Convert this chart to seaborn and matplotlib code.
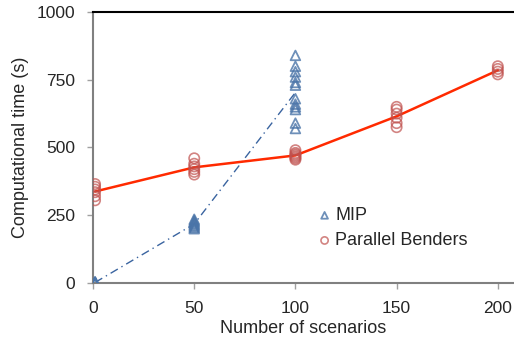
import matplotlib
matplotlib.use("Agg")
import matplotlib.pyplot as plt
import seaborn as sns
import pandas as pd

mip_x = [1]*6 + [50]*8 + [100]*12
mip_y = [0, 0, 1, 2, 3, 4,
         200, 205, 210, 215, 220, 225, 230, 235,
         840, 800, 780, 760, 740, 730, 680, 660, 650, 640, 590, 570]
pb_x = [1]*6 + [50]*6 + [100]*7 + [150]*6 + [200]*4
pb_y = [305, 320, 335, 345, 355, 365,
        400, 410, 420, 430, 440, 460,
        455, 460, 465, 470, 475, 480, 490,
        575, 590, 610, 625, 640, 650,
        770, 780, 790, 800]

mip = pd.DataFrame({"x": mip_x, "y": mip_y})
pb = pd.DataFrame({"x": pb_x, "y": pb_y})

sns.set_style("white")
plt.rcParams['font.family'] = ['Liberation Sans', 'DejaVu Sans']

fig = plt.figure(figsize=(5.14, 3.45), dpi=100)
ax = fig.add_axes([0.181, 0.180, 0.819, 0.785])

blue = "#4a74a8"
red = "#c0504d"

sns.lineplot(data=mip, x="x", y="y", estimator="mean", errorbar=None, ax=ax,
             color="#3a64a0", lw=1.0, linestyle=(0, (6, 3, 1, 3)), legend=False)
sns.lineplot(data=pb, x="x", y="y", estimator="mean", errorbar=None, ax=ax,
             color="#ff2a00", lw=1.8, legend=False)
sns.scatterplot(data=mip, x="x", y="y", ax=ax, marker="^", s=48,
                facecolor="none", edgecolor=blue, linewidth=1.3, alpha=0.8,
                label="MIP", zorder=3)
sns.scatterplot(data=pb, x="x", y="y", ax=ax, marker="o", s=55,
                facecolor="none", edgecolor=red, linewidth=1.2, alpha=0.7,
                label="Parallel Benders", zorder=3)

ax.set_xlim(0, 208)
ax.set_ylim(0, 1000)
ax.set_xticks([0, 50, 100, 150, 200])
ax.set_yticks([0, 250, 500, 750, 1000])
ax.set_xlabel("Number of scenarios", fontsize=13, labelpad=3)
ax.set_ylabel("Computational time (s)", fontsize=13, labelpad=5)
ax.tick_params(axis="both", labelsize=12.5, length=4, width=1, color="#a0a0a0",
               direction="out", bottom=True, left=True)
ax.tick_params(axis="x", pad=9)
ax.tick_params(axis="y", pad=9)

for s in ["left", "bottom"]:
    ax.spines[s].set_color("#808080")
    ax.spines[s].set_linewidth(1.5)
ax.spines["right"].set_visible(False)
ax.spines["top"].set_color("black")
ax.spines["top"].set_linewidth(1.5)

leg = ax.legend(loc="upper left", bbox_to_anchor=(0.49, 0.34), frameon=False,
                fontsize=13, handletextpad=0.1, markerscale=0.7,
                labelspacing=0.45, handlelength=1.0)

fig.savefig("out.png", dpi=100)
